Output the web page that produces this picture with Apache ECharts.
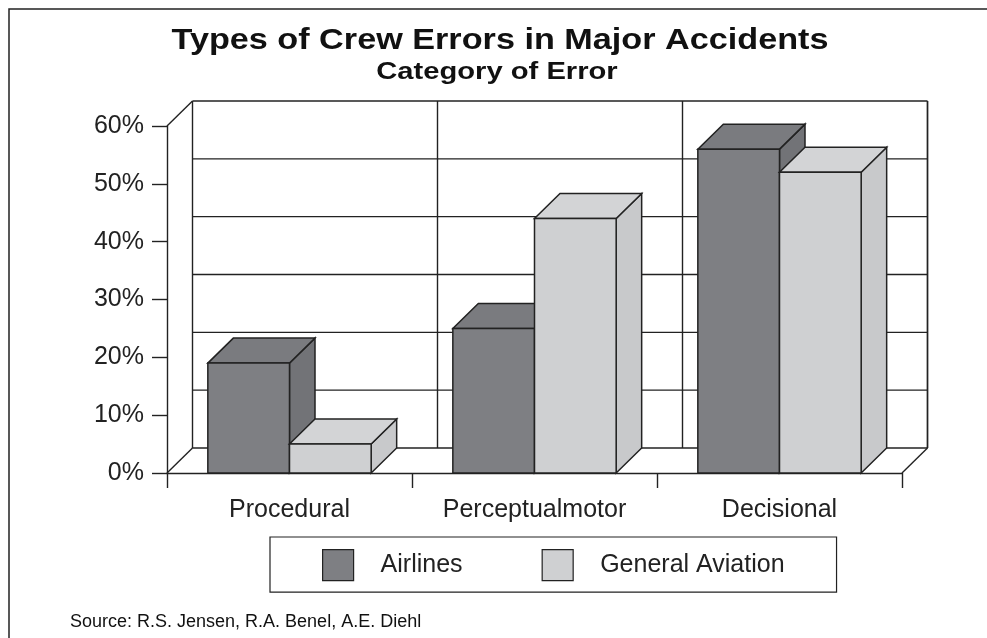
<!DOCTYPE html>
<html>
<head>
<meta charset="utf-8">
<script src="https://cdn.jsdelivr.net/npm/echarts@6/dist/echarts.min.js"></script>
<style>
html,body{margin:0;padding:0;background:#fff;}
#chart{width:987px;height:638px;}
</style>
</head>
<body>
<div id="chart"></div>
<script>
// ---- data ----
const categories = ['Procedural', 'Perceptualmotor', 'Decisional'];
const airlines = [19, 25, 56];
const generalAviation = [5, 44, 52];
const yTicks = [0, 10, 20, 30, 40, 50, 60];
const seriesNames = ['Airlines', 'General Aviation'];
const titleText = 'Types of Crew Errors in Major Accidents';
const subtitleText = 'Category of Error';
const sourceText = 'Source: R.S. Jensen, R.A. Benel, A.E. Diehl';

// ---- styling constants ----
const DX = 25.5, DY = -25;
const LINE = '#222';
const FONT = 'Liberation Sans, Arial, sans-serif';
const faceColors = [
  { front: '#7e7f83', top: '#7a7b7f', side: '#727377' },
  { front: '#cfd0d2', top: '#d3d4d6', side: '#c8c9cb' }
];

const chart = echarts.init(document.getElementById('chart'), null, { renderer: 'canvas' });

function makeBarRender(slot) {
  const c = faceColors[slot];
  return function (params, api) {
    const cat = api.value(0), val = api.value(1);
    const band = api.size([1, 0])[0];
    const w = band / 3;
    const base = api.coord([cat, 0]);
    const top = api.coord([cat, val]);
    const xl = base[0] + (slot - 1) * w;
    const xr = xl + w;
    const yb = base[1], yt = top[1];
    const st = { stroke: LINE, lineWidth: 1.5, lineJoin: 'miter' };
    return {
      type: 'group',
      children: [
        { type: 'polygon', shape: { points: [[xr, yb], [xr, yt], [xr + DX, yt + DY], [xr + DX, yb + DY]] },
          style: Object.assign({ fill: c.side }, st) },
        { type: 'polygon', shape: { points: [[xl, yt], [xr, yt], [xr + DX, yt + DY], [xl + DX, yt + DY]] },
          style: Object.assign({ fill: c.top }, st) },
        { type: 'rect', shape: { x: xl, y: yt, width: w, height: yb - yt },
          style: Object.assign({ fill: c.front }, st) }
      ]
    };
  };
}

function renderWallH(params, api) {
  const cs = params.coordSys;
  const v = api.value(0);
  const y = api.coord([0, v])[1] + DY;
  const ls = { stroke: LINE, lineWidth: 1.4 };
  const children = [
    { type: 'line', shape: { x1: cs.x + DX, y1: y, x2: cs.x + cs.width + DX, y2: y }, style: ls }
  ];
  if (params.dataIndex === 0) {
    const x0 = cs.x, x1 = cs.x + cs.width, yB = cs.y + cs.height, yT = cs.y;
    children.push(
      { type: 'line', shape: { x1: x0, y1: yB, x2: x0 + DX, y2: yB + DY }, style: ls },
      { type: 'line', shape: { x1: x0, y1: yT, x2: x0 + DX, y2: yT + DY }, style: ls },
      { type: 'line', shape: { x1: x1, y1: yB, x2: x1 + DX, y2: yB + DY }, style: ls },
      { type: 'line', shape: { x1: x1 + DX, y1: yT + DY, x2: x1 + DX, y2: yB + DY }, style: ls }
    );
  }
  return { type: 'group', children: children };
}

function renderWallV(params, api) {
  const cs = params.coordSys;
  const cat = api.value(0);
  const band = api.size([1, 0])[0];
  const x = api.coord([cat, 0])[0] - band / 2 + DX;
  return { type: 'line', shape: { x1: x, y1: cs.y + DY, x2: x, y2: cs.y + cs.height + DY },
    style: { stroke: LINE, lineWidth: 1.4 } };
}

const option = {
  animation: false,
  backgroundColor: '#fff',
  textStyle: { fontFamily: FONT },
  legend: {
    data: seriesNames,
    left: 270, top: 537,
    padding: [12, 52, 11, 52],
    borderColor: LINE, borderWidth: 1.2,
    itemWidth: 31, itemHeight: 31, itemGap: 79,
    icon: 'rect',
    itemStyle: { borderColor: LINE, borderWidth: 1.2 },
    formatter: function (name) { return '{s|}{n|' + name + '}'; },
    textStyle: {
      fontFamily: FONT, fontSize: 25, color: '#222',
      rich: { s: { width: 22 }, n: { fontSize: 25, fontFamily: FONT, color: '#222' } }
    },
    selectedMode: false
  },
  grid: { left: 167, right: 85, top: 126, bottom: 165, containLabel: false },
  xAxis: {
    type: 'category', data: categories, boundaryGap: true,
    axisLine: { show: true, lineStyle: { color: LINE, width: 1.4 } },
    axisTick: { show: true, length: 15, alignWithLabel: false, lineStyle: { color: LINE, width: 1.4 } },
    axisLabel: { fontSize: 25, color: '#222', margin: 25, fontFamily: FONT },
    splitLine: { show: false }
  },
  yAxis: {
    type: 'value', min: 0, max: 60, interval: 10,
    axisLine: { show: true, lineStyle: { color: LINE, width: 1.4 } },
    axisTick: { show: true, length: 15, lineStyle: { color: LINE, width: 1.4 } },
    axisLabel: { fontSize: 25, color: '#222', margin: 23, formatter: '{value}%', fontFamily: FONT },
    splitLine: { show: false }
  },
  graphic: [
    { type: 'rect', shape: { x: 9, y: 9, width: 1200, height: 900 }, style: { fill: 'none', stroke: LINE, lineWidth: 1.5 }, silent: true, z: 100 },
    { type: 'text', x: 500, y: 41, scaleX: 1.14, silent: true,
      style: { text: titleText, fontSize: 30, fontWeight: 'bold', fontFamily: FONT, fill: '#111', align: 'center', verticalAlign: 'middle' } },
    { type: 'text', x: 497, y: 72.5, scaleX: 1.19, silent: true,
      style: { text: subtitleText, fontSize: 24.5, fontWeight: 'bold', fontFamily: FONT, fill: '#111', align: 'center', verticalAlign: 'middle' } },
    { type: 'text', x: 70, y: 622, silent: true,
      style: { text: sourceText, fontSize: 18, fontFamily: FONT, fill: '#111', verticalAlign: 'middle' } }
  ],
  series: [
    { type: 'custom', name: '_wallH', silent: true, renderItem: renderWallH,
      data: yTicks.map(v => [v]), encode: { y: 0 }, z: 1 },
    { type: 'custom', name: '_wallV', silent: true, renderItem: renderWallV,
      data: categories.map((c, i) => [i]).concat([[categories.length]]), encode: { x: 0 }, z: 1 },
    { type: 'custom', name: seriesNames[0], renderItem: makeBarRender(0),
      itemStyle: { color: faceColors[0].front },
      data: airlines.map((v, i) => [i, v]), encode: { x: 0, y: 1 }, z: 2 },
    { type: 'custom', name: seriesNames[1], renderItem: makeBarRender(1),
      itemStyle: { color: faceColors[1].front },
      data: generalAviation.map((v, i) => [i, v]), encode: { x: 0, y: 1 }, z: 2 }
  ]
};
chart.setOption(option);
</script>
</body>
</html>
